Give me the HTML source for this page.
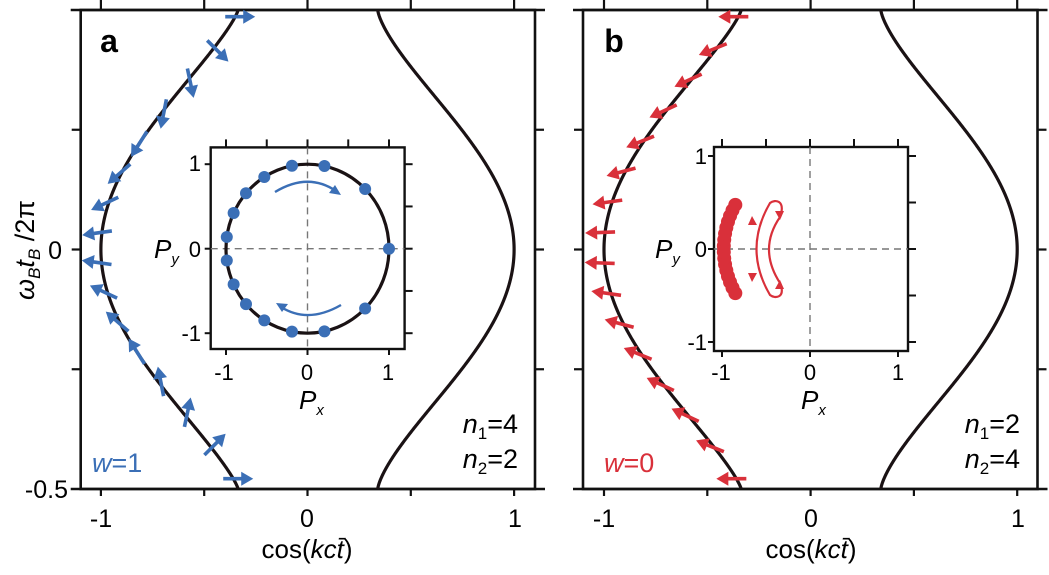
<!DOCTYPE html>
<html><head><meta charset="utf-8"><style>
html,body{margin:0;padding:0;background:#fff;}
svg{display:block;font-family:"Liberation Sans",Arial,sans-serif;}
</style></head><body>
<svg id="s" width="1049" height="575" viewBox="0 0 1049 575" xmlns="http://www.w3.org/2000/svg">
<rect width="1049" height="575" fill="#fff"/>
<g id="g"></g>
<text x="109" y="52" font-size="32" font-weight="bold" text-anchor="middle">a</text>
<text x="92" y="472" font-size="27" fill="#3b6fb6"><tspan font-style="italic">w</tspan>=1</text>
<text x="518" y="433" font-size="27" text-anchor="end"><tspan font-style="italic">n</tspan><tspan font-size="17" dy="6">1</tspan><tspan dy="-6">=4</tspan></text>
<text x="518" y="468" font-size="27" text-anchor="end"><tspan font-style="italic">n</tspan><tspan font-size="17" dy="6">2</tspan><tspan dy="-6">=2</tspan></text>
<g font-size="25" text-anchor="middle">
<text x="101" y="527">-1</text><text x="307" y="527">0</text><text x="515" y="527">1</text>
<text x="604" y="527">-1</text><text x="811" y="527">0</text><text x="1018" y="527">1</text>
</g>
<text x="307" y="558" font-size="26" text-anchor="middle">cos(<tspan font-style="italic">kc</tspan><tspan font-style="italic">t̄</tspan>)</text>
<text x="811" y="558" font-size="26" text-anchor="middle">cos(<tspan font-style="italic">kc</tspan><tspan font-style="italic">t̄</tspan>)</text>
<text x="62" y="259" font-size="25" text-anchor="end">0</text>
<text x="68" y="498" font-size="25" text-anchor="end">-0.5</text>
<text transform="translate(34,250) rotate(-90)" font-size="27" text-anchor="middle"><tspan font-style="italic">ω</tspan><tspan font-size="17" dy="6" font-style="italic">B</tspan><tspan dy="-6" font-style="italic">t</tspan><tspan font-size="17" dy="6" font-style="italic">B</tspan><tspan dy="-6"> /2π</tspan></text>
<text x="614" y="52" font-size="32" font-weight="bold" text-anchor="middle">b</text>
<text x="604" y="472" font-size="27" fill="#d9303a"><tspan font-style="italic">w</tspan>=0</text>
<text x="1020" y="433" font-size="27" text-anchor="end"><tspan font-style="italic">n</tspan><tspan font-size="17" dy="6">1</tspan><tspan dy="-6">=2</tspan></text>
<text x="1020" y="468" font-size="27" text-anchor="end"><tspan font-style="italic">n</tspan><tspan font-size="17" dy="6">2</tspan><tspan dy="-6">=4</tspan></text>
<g font-size="22" text-anchor="end">
<text x="201" y="171">1</text><text x="201" y="257">0</text><text x="201" y="341">-1</text>
<text x="707" y="164">1</text><text x="707" y="257">0</text><text x="707" y="350">-1</text>
</g>
<g font-size="22" text-anchor="middle">
<text x="224" y="380">-1</text><text x="307" y="380">0</text><text x="388" y="380">1</text>
<text x="721" y="380">-1</text><text x="810" y="380">0</text><text x="898" y="380">1</text>
</g>
<text x="299" y="409" font-size="26" font-style="italic">P<tspan font-size="15" dy="6">x</tspan></text>
<text x="154" y="258" font-size="26" font-style="italic">P<tspan font-size="15" dy="6">y</tspan></text>
<text x="801" y="409" font-size="26" font-style="italic">P<tspan font-size="15" dy="6">x</tspan></text>
<text x="655" y="258" font-size="26" font-style="italic">P<tspan font-size="15" dy="6">y</tspan></text>
</svg>
<script>
(function(){
var G=document.getElementById("g"),h="";
var BLUE="#3b6fb6",RED="#d9303a";
var TOP=10,BOT=489,Y0=249.5,YS=479;
function Y(t){return Y0-YS*t;}
function frame(L,R,X0,XS){
  h+='<rect x="'+L+'" y="'+TOP+'" width="'+(R-L)+'" height="'+(BOT-TOP)+'" fill="none" stroke="#111" stroke-width="2.6"/>';
  h+='<line x1="'+(L-10)+'" y1="'+BOT+'" x2="'+(R+10)+'" y2="'+BOT+'" stroke="#111" stroke-width="2.6"/>';
  h+='<line x1="'+(L-10)+'" y1="'+TOP+'" x2="'+(R+10)+'" y2="'+TOP+'" stroke="#111" stroke-width="2.6"/>';
  for(var v=-1;v<=1.01;v+=0.5){var x=X0+XS*v;
    h+='<line x1="'+x+'" y1="'+BOT+'" x2="'+x+'" y2="'+(BOT+7)+'" stroke="#111" stroke-width="2.2"/>';
    h+='<line x1="'+x+'" y1="0" x2="'+x+'" y2="'+TOP+'" stroke="#111" stroke-width="2.2"/>';}
  for(var t=-0.25;t<=0.26;t+=0.25){var y=Y(t);
    h+='<line x1="'+(L-9)+'" y1="'+y+'" x2="'+L+'" y2="'+y+'" stroke="#111" stroke-width="2.2"/>';
    h+='<line x1="'+R+'" y1="'+y+'" x2="'+(R+9)+'" y2="'+y+'" stroke="#111" stroke-width="2.2"/>';}
}
function g(t,e){return Math.pow((1+Math.cos(2*Math.PI*t))/2,e);}
function curves(X0,XS){
  var a="",b="";
  for(var i=0;i<=400;i++){var t=0.5-i/400;
    var xl=X0+XS*(-0.336-0.664*g(t,0.62)), xr=X0+XS*(0.34+0.66*g(t,0.70));
    a+=(i?"L":"M")+xl.toFixed(2)+","+Y(t).toFixed(2);
    b+=(i?"L":"M")+xr.toFixed(2)+","+Y(t).toFixed(2);}
  h+='<path d="'+a+'" fill="none" stroke="#1a1214" stroke-width="3.2"/>';
  h+='<path d="'+b+'" fill="none" stroke="#1a1214" stroke-width="3.2"/>';
}
function arrow(px,py,ang,col){
  var dx=Math.cos(ang),dy=Math.sin(ang);
  var tx=px-10*dx,ty=py-10*dy,hx=px+20*dx,hy=py+20*dy;
  var bx=hx-12*dx,by=hy-12*dy,nx=-dy,ny=dx;
  h+='<line x1="'+tx+'" y1="'+ty+'" x2="'+(bx+2*dx)+'" y2="'+(by+2*dy)+'" stroke="'+col+'" stroke-width="3.6"/>';
  h+='<polygon points="'+hx+','+hy+' '+(bx+7*nx)+','+(by+7*ny)+' '+(bx-7*nx)+','+(by-7*ny)+'" fill="'+col+'"/>';
}
function arrows(X0,XS,angs,col){
  for(var i=0;i<16;i++){var t=0.486-i*0.0643;
    var x=X0+XS*(-0.336-0.664*g(t,0.62));
    arrow(x,Y(t),angs[i]*Math.PI/180,col);}
}
frame(80.7,535,307.5,206.6);
curves(307.5,206.6);
var pa=[0,-45,-78,-101,-122,-139,-155,-172,172,155,139,122,101,78,45,0];
arrows(307.5,206.6,pa.map(function(p){return -p;}),BLUE);
frame(583,1037.5,810.6,206.6);
curves(810.6,206.6);
var tl=[0,22,25,25,22,15,8,2,-2,-8,-15,-22,-25,-25,-22,0];
arrows(810.6,206.6,tl.map(function(t){return 180-t;}),RED);
function inset(L,R,T,B,X0,XS,Y0i,YS){
  h+='<rect x="'+L+'" y="'+T+'" width="'+(R-L)+'" height="'+(B-T)+'" fill="#fff" stroke="#111" stroke-width="2.4"/>';
  h+='<line x1="'+X0+'" y1="'+T+'" x2="'+X0+'" y2="'+B+'" stroke="#777" stroke-width="1.4" stroke-dasharray="7,5"/>';
  h+='<line x1="'+L+'" y1="'+Y0i+'" x2="'+R+'" y2="'+Y0i+'" stroke="#777" stroke-width="1.4" stroke-dasharray="7,5"/>';
  for(var v=-1;v<=1.01;v+=0.5){var x=X0+XS*v,y=Y0i-YS*v;
    h+='<line x1="'+x+'" y1="'+(T-8)+'" x2="'+x+'" y2="'+T+'" stroke="#111" stroke-width="2"/>';
    h+='<line x1="'+R+'" y1="'+y+'" x2="'+(R+8)+'" y2="'+y+'" stroke="#111" stroke-width="2"/>';
  }
  [-1,0,1].forEach(function(v){
    h+='<line x1="'+(L-6)+'" y1="'+(Y0i-YS*v)+'" x2="'+L+'" y2="'+(Y0i-YS*v)+'" stroke="#111" stroke-width="2"/>';
    h+='<line x1="'+(X0+XS*v)+'" y1="'+B+'" x2="'+(X0+XS*v)+'" y2="'+(B+6)+'" stroke="#111" stroke-width="2"/>';
  });
}
var aX0=307.5,aXS=81.5,aY0=248.7,aYS=84.5;
inset(210.7,404.6,147.4,349,aX0,aXS,aY0,aYS);
h+='<ellipse cx="'+aX0+'" cy="'+aY0+'" rx="'+aXS+'" ry="'+aYS+'" fill="none" stroke="#1a1214" stroke-width="3.2"/>';
for(var i=0;i<15;i++){var p=pa[i]*Math.PI/180;
  h+='<circle cx="'+(aX0+aXS*Math.cos(p))+'" cy="'+(aY0-aYS*Math.sin(p))+'" r="6" fill="'+BLUE+'"/>';}
h+='<path d="M275,192 Q308,172 336,191" fill="none" stroke="'+BLUE+'" stroke-width="2.4"/>';
h+='<polygon points="341,195 329,193 335,185" fill="'+BLUE+'"/>';
h+='<path d="M341,305 Q308,324 281,307" fill="none" stroke="'+BLUE+'" stroke-width="2.4"/>';
h+='<polygon points="276,303 288,304 282,312" fill="'+BLUE+'"/>';
var bX0=810,bXS=88,bY0=249,bYS=93;
inset(714,908,147,351,bX0,bXS,bY0,bYS);
var ths=[-30,-26,-22,-18,-14,-10,-6,-2,2,6,10,14,18,22,26,30];
ths.forEach(function(d){var p=d*Math.PI/180;
  var px=-0.98*Math.cos(p), py=Math.sin(p)*0.95;
  h+='<circle cx="'+(bX0+bXS*px)+'" cy="'+(bY0-bYS*py)+'" r="7" fill="'+RED+'"/>';});
h+='<path d="M780,217 C786,200 775,199 770,203 Q743,249 770,295 C775,299 786,298 780,283 Q758,249 780,217 Z" fill="none" stroke="'+RED+'" stroke-width="2.2"/>';
h+='<polygon points="752,216 748,225 757,225" fill="'+RED+'"/>';
h+='<polygon points="780,220 775,211 784,211" fill="'+RED+'"/>';
h+='<polygon points="752,282 748,273 757,273" fill="'+RED+'"/>';
h+='<polygon points="780,280 775,289 784,289" fill="'+RED+'"/>';
G.innerHTML=h;
})();
</script>
</body></html>
